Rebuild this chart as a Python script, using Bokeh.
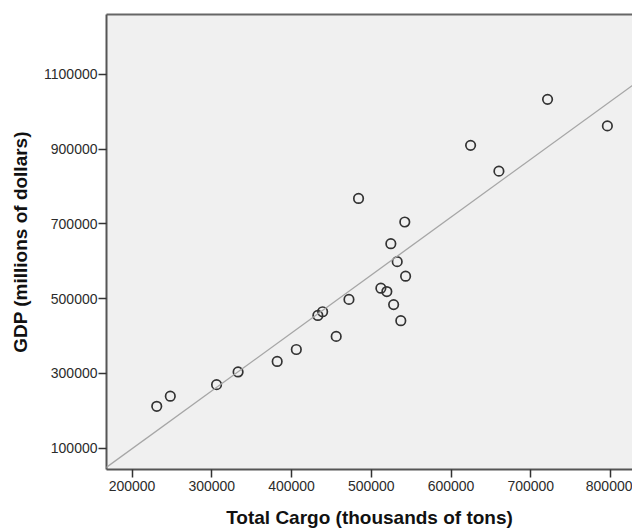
import numpy as np
from bokeh.plotting import figure
from bokeh.models import Range1d, FixedTicker, LinearAxis, Slope
from bokeh.embed import file_html
from bokeh.resources import INLINE

# Data (Total Cargo, GDP)
cargo = [231000, 248000, 306000, 333000, 382000, 406000, 433000, 439000,
         456000, 472000, 484000, 512000, 519500, 528000, 537000, 524500,
         532500, 542000, 543000, 624500, 660000, 721000, 796000]
gdp = [212000, 239000, 270000, 304000, 332000, 364000, 455000, 465000,
       399000, 498000, 768000, 528000, 519000, 484000, 441000, 647000,
       599000, 705000, 560000, 910000, 841000, 1033000, 962000]

x_ticks = [200000, 300000, 400000, 500000, 600000, 700000, 800000]
y_ticks = [100000, 300000, 500000, 700000, 900000, 1100000]
x_label = "Total Cargo (thousands of tons)"
y_label = "GDP (millions of dollars)"

FONT = "Liberation Sans"

p = figure(width=632, height=530, output_backend="svg", toolbar_location=None,
           x_range=Range1d(168000, 827500), y_range=Range1d(43000, 1260000),
           min_border_left=106, min_border_right=0, min_border_top=14,
           min_border_bottom=61)

p.background_fill_color = "#f0f0f0"
p.border_fill_color = "white"
p.outline_line_color = None
p.grid.visible = False

for ax, ticks in ((p.xaxis[0], x_ticks), (p.yaxis[0], y_ticks)):
    ax.ticker = FixedTicker(ticks=ticks)
    ax.major_label_overrides = {t: str(t) for t in ticks}
    ax.minor_tick_line_color = None
    ax.major_tick_in = 0
    ax.major_tick_out = 8
    ax.major_tick_line_color = "#333333"
    ax.major_tick_line_width = 1.5
    ax.axis_line_color = "#555555"
    ax.axis_line_width = 2
    ax.major_label_text_font = FONT
    ax.major_label_text_font_size = "14px"
    ax.major_label_text_color = "#2b2b2b"
    ax.axis_label_text_font = FONT
    ax.axis_label_text_font_size = "19px"
    ax.axis_label_text_font_style = "bold"
    ax.axis_label_text_color = "#111111"

p.xaxis[0].axis_label = x_label
p.yaxis[0].axis_label = y_label
p.xaxis[0].major_label_standoff = 3
p.yaxis[0].major_label_standoff = 1
p.xaxis[0].axis_label_standoff = 13
p.yaxis[0].axis_label_standoff = 10

top = LinearAxis(ticker=FixedTicker(ticks=[]), major_tick_line_color=None,
                 minor_tick_line_color=None, major_label_text_font_size="0px",
                 major_label_standoff=0, axis_line_color="#666666",
                 axis_line_width=2)
p.add_layout(top, "above")

# OLS fit line computed from the data
m, b = np.polyfit(np.array(cargo, float), np.array(gdp, float), 1)
p.add_layout(Slope(gradient=m, y_intercept=b, line_color="#a6a6a6", line_width=1.3))

p.scatter(cargo, gdp, size=9.5, fill_color=None, line_color="#333333", line_width=1.7)

open("out.html", "w").write(file_html(p, INLINE))
